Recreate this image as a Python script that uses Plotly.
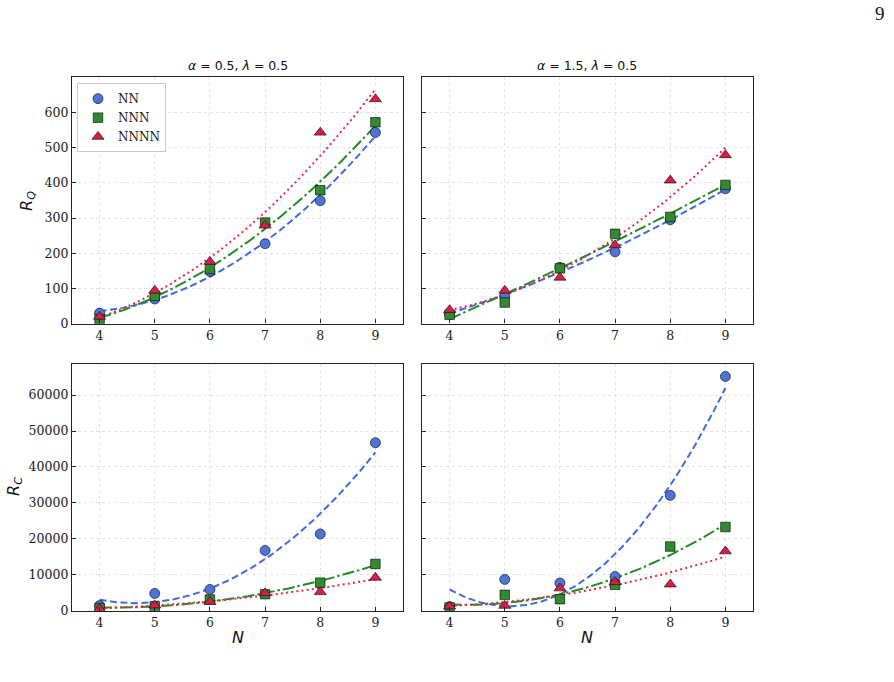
import numpy as np
import plotly.graph_objects as go

# ---------------- data ----------------
N = [4, 5, 6, 7, 8, 9]
series_names = ["NN", "NNN", "NNNN"]

# R_Q, alpha = 0.5
rq_a05_nn = [30, 70, 148, 227, 349, 543]
rq_a05_nnn = [13, 79, 155, 287, 379, 572]
rq_a05_nnnn = [20, 94, 176, 279, 543, 638]

# R_Q, alpha = 1.5
rq_a15_nn = [28, 78, 160, 204, 295, 383]
rq_a15_nnn = [25, 60, 157, 255, 303, 394]
rq_a15_nnnn = [39, 94, 131, 223, 407, 479]

# R_C, alpha = 0.5
rc_a05_nn = [1400, 4800, 5900, 16750, 21350, 46750]
rc_a05_nnn = [700, 1200, 3100, 4600, 7800, 13000]
rc_a05_nnnn = [500, 1500, 2500, 4900, 5200, 9200]

# R_C, alpha = 1.5
rc_a15_nn = [1100, 8700, 7700, 9500, 32100, 65200]
rc_a15_nnn = [900, 4400, 3200, 7200, 17850, 23300]
rc_a15_nnnn = [1200, 1400, 6250, 8000, 7350, 16550]

titles = ["<i>α</i> = 0.5, <i>λ</i> = 0.5", "<i>α</i> = 1.5, <i>λ</i> = 0.5"]
rq_ticks = [0, 100, 200, 300, 400, 500, 600]
rc_ticks = [0, 10000, 20000, 30000, 40000, 50000, 60000]

# ---------------- styles ----------------
fill = {"NN": "#4f74d8", "NNN": "#2e8b2e", "NNNN": "#d81e48"}
linec = {"NN": "#4169e1", "NNN": "#228b22", "NNNN": "#e8284f"}
dash = {"NN": "7px,3.5px", "NNN": "12px,3px,2.5px,3px", "NNNN": "2px,3.2px"}
symbol = {"NN": "circle", "NNN": "square", "NNNN": "triangle-up"}
msize = {"NN": 10, "NNN": 9.5, "NNNN": 10.5}

panels = [
    ("x", "y", {"NN": rq_a05_nn, "NNN": rq_a05_nnn, "NNNN": rq_a05_nnnn}, True),
    ("x2", "y2", {"NN": rq_a15_nn, "NNN": rq_a15_nnn, "NNNN": rq_a15_nnnn}, False),
    ("x3", "y3", {"NN": rc_a05_nn, "NNN": rc_a05_nnn, "NNNN": rc_a05_nnnn}, False),
    ("x4", "y4", {"NN": rc_a15_nn, "NNN": rc_a15_nnn, "NNNN": rc_a15_nnnn}, False),
]

fig = go.Figure()
xd = np.linspace(min(N), max(N), 120)
for xa, ya, data, show_leg in panels:
    # quadratic fits
    for name in series_names:
        coef = np.polyfit(N, data[name], 2)
        fig.add_trace(go.Scatter(
            x=xd, y=np.polyval(coef, xd), mode="lines", xaxis=xa, yaxis=ya,
            line=dict(color=linec[name], width=2, dash=dash[name]),
            showlegend=False, hoverinfo="skip"))
    for name in series_names:
        fig.add_trace(go.Scatter(
            x=N, y=data[name], mode="markers", name=name, xaxis=xa, yaxis=ya,
            marker=dict(symbol=symbol[name], size=msize[name], color=fill[name],
                        line=dict(color="rgba(20,20,20,0.85)", width=0.8)),
            showlegend=show_leg))

W, H = 894, 682
xl = [72 / W, 403 / W]
xr = [422 / W, 753 / W]
yt = [1 - 327 / H, 1 - 78 / H]
yb = [1 - 617 / H, 1 - 368 / H]

tickfont = dict(family="DejaVu Serif", size=12.5, color="#1a1a1a")
grid = dict(showgrid=True, gridcolor="#e2e2e2", griddash="dot", gridwidth=1)
common_x = dict(range=[3.5, 9.5], tickvals=N, ticks="inside", ticklen=4, tickwidth=1,
                tickcolor="#222", showline=True, linecolor="#222", linewidth=1.3,
                mirror=True, zeroline=False, tickfont=tickfont, **grid)
common_y = dict(ticks="inside", ticklen=4, tickwidth=1, tickcolor="#222",
                showline=True, linecolor="#222", linewidth=1.3, mirror=True,
                zeroline=False, tickfont=tickfont, tickformat="d", **grid)

fig.update_layout(
    width=W, height=H, margin=dict(l=0, r=0, t=0, b=0),
    paper_bgcolor="white", plot_bgcolor="white",
    xaxis=dict(domain=xl, anchor="y", **common_x),
    xaxis2=dict(domain=xr, anchor="y2", **common_x),
    xaxis3=dict(domain=xl, anchor="y3", **common_x),
    xaxis4=dict(domain=xr, anchor="y4", **common_x),
    yaxis=dict(domain=yt, anchor="x", range=[0, 700], tickvals=rq_ticks, **common_y),
    yaxis2=dict(domain=yt, anchor="x2", range=[0, 700], tickvals=rq_ticks,
                showticklabels=False, **common_y),
    yaxis3=dict(domain=yb, anchor="x3", range=[0, 68600], tickvals=rc_ticks, **common_y),
    yaxis4=dict(domain=yb, anchor="x4", range=[0, 68600], tickvals=rc_ticks,
                showticklabels=False, **common_y),
    legend=dict(x=77 / W, y=1 - 84 / H, xanchor="left", yanchor="top",
                bgcolor="white", bordercolor="#c8c8c8", borderwidth=1,
                font=dict(family="DejaVu Serif", size=12, color="#1a1a1a"),
                tracegroupgap=0),
    showlegend=True,
)

ann_font = dict(family="DejaVu Sans", size=12.5, color="#111")
lab_font = dict(family="DejaVu Sans", size=16, color="#111")
annotations = [
    dict(text=titles[0], x=(xl[0] + xl[1]) / 2, y=1 - 66 / H, xref="paper", yref="paper",
         showarrow=False, font=ann_font, xanchor="center", yanchor="middle"),
    dict(text=titles[1], x=(xr[0] + xr[1]) / 2, y=1 - 66 / H, xref="paper", yref="paper",
         showarrow=False, font=ann_font, xanchor="center", yanchor="middle"),
    dict(text="<i>R<sub>Q</sub></i>", x=28 / W, y=1 - 203 / H, xref="paper", yref="paper",
         showarrow=False, font=lab_font, textangle=-90, xanchor="center", yanchor="middle"),
    dict(text="<i>R<sub>C</sub></i>", x=15 / W, y=1 - 492 / H, xref="paper", yref="paper",
         showarrow=False, font=lab_font, textangle=-90, xanchor="center", yanchor="middle"),
    dict(text="<i>N</i>", x=(xl[0] + xl[1]) / 2, y=1 - 644 / H, xref="paper", yref="paper",
         showarrow=False, font=lab_font, xanchor="center", yanchor="middle"),
    dict(text="<i>N</i>", x=(xr[0] + xr[1]) / 2, y=1 - 644 / H, xref="paper", yref="paper",
         showarrow=False, font=lab_font, xanchor="center", yanchor="middle"),
    dict(text="9", x=880 / W, y=1 - 14 / H, xref="paper", yref="paper",
         showarrow=False, font=dict(family="Liberation Serif", size=19, color="#111"),
         xanchor="center", yanchor="middle"),
]
fig.update_layout(annotations=annotations)

fig.write_html("out.html")
